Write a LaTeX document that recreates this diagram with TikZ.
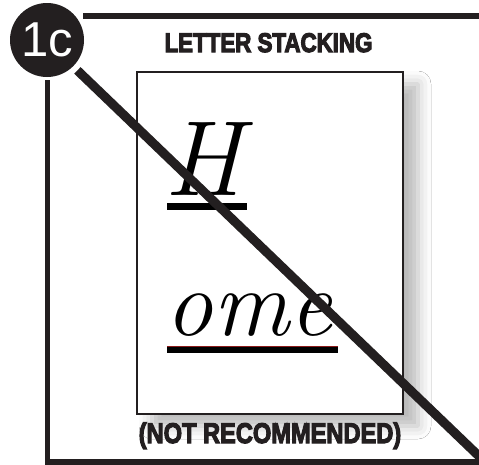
\documentclass[tikz,border=0pt]{standalone}
\usepackage{fontspec}
\newfontfamily\headfont{Liberation Sans}
\newcommand{\heavytext}[1]{\special{pdf:literal direct 2 Tr 0.7 w}#1\special{pdf:literal direct 0 Tr}}
\usetikzlibrary{shadows.blur}
\definecolor{ink}{HTML}{231F20}
\definecolor{rule}{HTML}{8B1A1A}
\tikzset{
  frameline/.style={draw=ink,line width=3.4pt},
  crossline/.style={draw=ink,line width=5.2pt},
  heading/.style={anchor=base,inner sep=0pt,text=ink,font=\headfont\bfseries\fontsize{15.3}{15}\selectfont},
  sample/.style={anchor=base,inner sep=0pt,text=black}
}
\begin{document}
\begin{tikzpicture}[x=0.02cm,y=-0.02cm]
\useasboundingbox (0,0) rectangle (479,464);
\fill[white] (0,0) rectangle (479,464);
\coordinate (topend) at (479,16);
\coordinate (leftstart) at (47.5,80);
\coordinate (corner) at (47.5,461.5);
\coordinate (botend) at (479,461.5);
\coordinate (crossend) at (484,461);
\draw[ink,line width=1.4pt,fill=white,blur shadow={shadow xshift=0.3cm,shadow yshift=-0.24cm,shadow blur radius=0.26cm,shadow opacity=28}] (137,72) rectangle (403,414);
\node[circle,fill=ink,minimum size=74*0.02cm,inner sep=0pt] (badge) at (47,40) {};
\node[text=white,font=\headfont\fontsize{27.9}{28}\selectfont,inner sep=0pt] (badgetext) at (badge) {1c};
\node[heading] (title) at (268.5,52) {\scalebox{0.83}[1]{\heavytext{LETTER STACKING}}};
\node[heading,font=\headfont\bfseries\fontsize{16.2}{16}\selectfont] (note) at (270,443) {\scalebox{0.83}[1]{\heavytext{(NOT RECOMMENDED)}}};
\node[sample,font=\itshape\fontsize{60.8}{61}\selectfont] (capH) at (203,195) {H};
\node[sample,font=\itshape\fontsize{54}{54}\selectfont] (rest) at (249,335) {ome};
\fill[black] (167,203) rectangle (247,210);
\fill[black] (167,346) rectangle (338,353);
\draw[rule,line width=0.4pt] (167,346.3) -- (338,346.3);
\draw[frameline] (83,16) -- (topend);
\draw[frameline] (leftstart) -- (corner) -- (botend);
\draw[crossline] (badge.-45) ++(4,4) -- (crossend);
\end{tikzpicture}
\end{document}
